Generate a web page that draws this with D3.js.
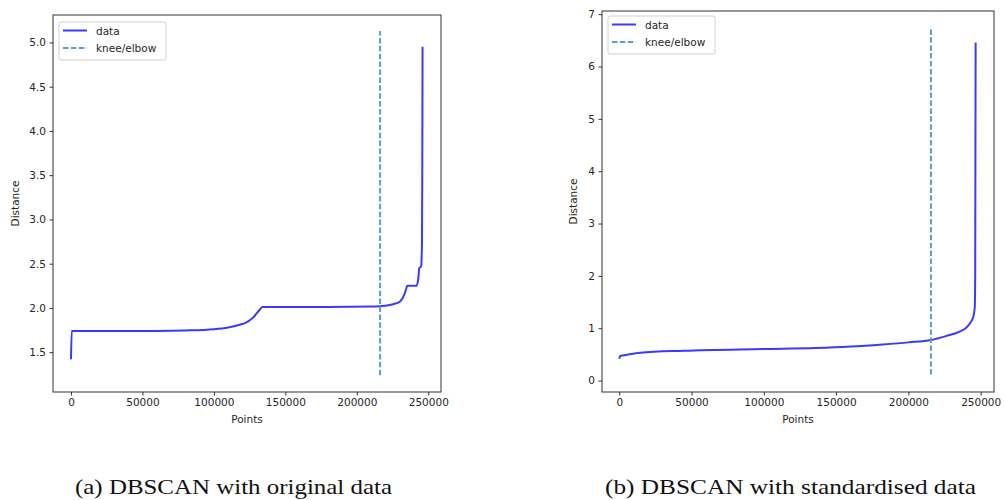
<!DOCTYPE html>
<meta charset="utf-8">
<script src="https://d3js.org/d3.v7.min.js"></script>
<style>
  body { margin: 0; background: #fff; }
  svg text { font-family: "DejaVu Sans", sans-serif; fill: #262626; }
  .caption { font-family: "Liberation Serif", "DejaVu Serif", serif; fill: #111; }
</style>
<body>
<div id="chart"></div>
<script>
// left panel: original data
var pointsA = [0, 500, 20000, 60000, 80000, 100000, 110000, 118000, 122000, 125000, 128000, 130000, 132000, 134000, 140000, 180000, 210000, 216000, 222000, 227000, 230000, 232000, 233700, 234600, 235300, 238000, 241800, 242500, 243000, 243700, 244500, 245100, 245400, 245600, 245800, 246000];
var distA   = [1.42, 1.74, 1.74, 1.74, 1.745, 1.76, 1.78, 1.81, 1.83, 1.86, 1.90, 1.94, 1.98, 2.01, 2.01, 2.01, 2.015, 2.02, 2.03, 2.05, 2.07, 2.11, 2.17, 2.22, 2.25, 2.25, 2.25, 2.28, 2.33, 2.45, 2.46, 2.48, 2.6, 2.75, 3.5, 4.95];
var kneeA = 216300, kneeSpanA = [1.24, 5.13];
var yTicksA = [1.5, 2.0, 2.5, 3.0, 3.5, 4.0, 4.5, 5.0];

// right panel: standardised data
var pointsB = [0, 700, 5000, 14500, 44500, 100000, 136000, 160000, 182000, 200000, 215500, 226000, 235800, 240000, 242700, 244900, 245900, 246200, 246500];
var distB   = [0.416, 0.47, 0.49, 0.53, 0.57, 0.603, 0.622, 0.65, 0.69, 0.73, 0.775, 0.85, 0.94, 1.01, 1.10, 1.22, 1.40, 2.0, 6.458];
var kneeB = 215600, kneeSpanB = [0.114, 6.76];
var yTicksB = [0, 1, 2, 3, 4, 5, 6, 7];

var xTicks = [0, 50000, 100000, 150000, 200000, 250000];
var captions = ["(a)  DBSCAN with original data", "(b)  DBSCAN with standardised data"];

var panels = [
  { pts: pointsA, dist: distA, knee: kneeA, span: kneeSpanA, yTicks: yTicksA, yFmt: d3.format(".1f"),
    box: { l: 53, r: 441, t: 15, b: 392 }, yDom: [1.05, 5.31], xDom: [-12600, 258900],
    ylabX: 15, legend: { x: 59, y: 22 }, caption: captions[0], capX: 75, capW: 317 },
  { pts: pointsB, dist: distB, knee: kneeB, span: kneeSpanB, yTicks: yTicksB, yFmt: d3.format("d"),
    box: { l: 602, r: 994, t: 11, b: 392 }, yDom: [-0.218, 7.06], xDom: [-11950, 259200],
    ylabX: 573, legend: { x: 608, y: 16 }, caption: captions[1], capX: 605, capW: 371 }
];

var svg = d3.select("#chart").append("svg")
  .attr("width", 1005)
  .attr("height", 500);

panels.forEach(function(p) {
  var x = d3.scaleLinear().domain(p.xDom).range([p.box.l, p.box.r]);
  var y = d3.scaleLinear().domain(p.yDom).range([p.box.b, p.box.t]);
  var g = svg.append("g");

  // data line
  var rows = p.pts.map(function(v, i) { return { x: v, y: p.dist[i] }; });
  g.append("path")
    .datum(rows)
    .attr("fill", "none")
    .attr("stroke", "#3a3aff")
    .attr("stroke-width", 2)
    .attr("stroke-linejoin", "round")
    .attr("d", d3.line()
      .curve(d3.curveMonotoneX)
      .x(function(d) { return x(d.x); })
      .y(function(d) { return y(d.y); }));

  // knee line
  g.append("line")
    .attr("x1", x(p.knee)).attr("x2", x(p.knee))
    .attr("y1", y(p.span[0])).attr("y2", y(p.span[1]))
    .attr("stroke", "#5b9bd0")
    .attr("stroke-width", 2)
    .attr("stroke-dasharray", "5.5,2.4");

  // axes
  var xAxis = g.append("g")
    .attr("transform", "translate(0," + p.box.b + ")")
    .call(d3.axisBottom(x).tickValues(xTicks).tickFormat(d3.format("d")).tickSize(3.5).tickPadding(3.5));
  var yAxis = g.append("g")
    .attr("transform", "translate(" + p.box.l + ",0)")
    .call(d3.axisLeft(y).tickValues(p.yTicks).tickFormat(p.yFmt).tickSize(3.5).tickPadding(3.5));
  [xAxis, yAxis].forEach(function(a) {
    a.select(".domain").remove();
    a.selectAll("line").attr("stroke", "#333");
    a.selectAll("text").style("font-size", "10.5px").attr("fill", "#262626");
  });

  // frame
  g.append("rect")
    .attr("x", p.box.l).attr("y", p.box.t)
    .attr("width", p.box.r - p.box.l).attr("height", p.box.b - p.box.t)
    .attr("fill", "none").attr("stroke", "#333").attr("stroke-width", 1);

  // axis labels
  g.append("text")
    .attr("x", (p.box.l + p.box.r) / 2).attr("y", 423)
    .attr("text-anchor", "middle")
    .style("font-size", "10.5px")
    .text("Points");
  g.append("text")
    .attr("transform", "translate(" + (p.ylabX + 4) + "," + ((p.box.t + p.box.b) / 2) + ") rotate(-90)")
    .attr("text-anchor", "middle")
    .style("font-size", "10.5px")
    .text("Distance");

  // legend
  var lg = g.append("g").attr("transform", "translate(" + p.legend.x + "," + p.legend.y + ")");
  lg.append("rect")
    .attr("width", 107).attr("height", 38).attr("rx", 2)
    .attr("fill", "#fff").attr("fill-opacity", 0.8)
    .attr("stroke", "#d0d0d0");
  lg.append("line").attr("x1", 4).attr("x2", 28).attr("y1", 8.5).attr("y2", 8.5)
    .attr("stroke", "#3a3aff").attr("stroke-width", 2);
  lg.append("line").attr("x1", 4).attr("x2", 28).attr("y1", 26).attr("y2", 26)
    .attr("stroke", "#5b9bd0").attr("stroke-width", 2).attr("stroke-dasharray", "5.5,2.4");
  lg.append("text").attr("x", 37).attr("y", 12.5).style("font-size", "10.5px").text("data");
  lg.append("text").attr("x", 37).attr("y", 30).style("font-size", "10.5px").text("knee/elbow");

  // caption
  g.append("text")
    .attr("class", "caption")
    .attr("x", p.capX).attr("y", 494)
    .attr("textLength", p.capW)
    .attr("lengthAdjust", "spacingAndGlyphs")
    .style("font-size", "21px")
    .text(p.caption);
});
</script>
</body>
